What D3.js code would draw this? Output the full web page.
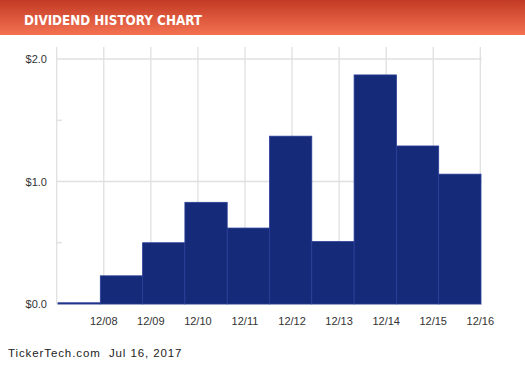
<!DOCTYPE html>
<html>
<head>
<meta charset="utf-8">
<script src="https://cdn.jsdelivr.net/npm/d3@7"></script>
<style>
  html, body { margin: 0; padding: 0; background: #fff; }
  svg { display: block; }
</style>
</head>
<body>
<svg id="chart" width="525" height="366"></svg>
<script>
// ---- data ----
const title = "DIVIDEND HISTORY CHART";
const footer = "TickerTech.com  Jul 16, 2017";
const periods = ["2007", "2008", "2009", "2010", "2011", "2012", "2013", "2014", "2015", "2016"];
const dividends = [0.01, 0.23, 0.50, 0.83, 0.62, 1.37, 0.51, 1.87, 1.29, 1.06];
const gridDates = ["12/07", "12/08", "12/09", "12/10", "12/11", "12/12", "12/13", "12/14", "12/15", "12/16"];
const tickLabels = ["12/08", "12/09", "12/10", "12/11", "12/12", "12/13", "12/14", "12/15", "12/16"];
const yTicks = [0, 1, 2];
const yMinorTicks = [0.5, 1.5];

// ---- drawing ----
const svg = d3.select("#chart");
const defs = svg.append("defs");
const grad = defs.append("linearGradient").attr("id", "hdr").attr("x1", 0).attr("y1", 0).attr("x2", 0).attr("y2", 1);
grad.append("stop").attr("offset", "0%").attr("stop-color", "#c23a24");
grad.append("stop").attr("offset", "100%").attr("stop-color", "#f47252");

svg.append("rect").attr("x", 0).attr("y", 0).attr("width", 525).attr("height", 35).attr("fill", "url(#hdr)");
svg.append("text")
  .attr("x", 24).attr("y", 24.5)
  .attr("font-family", "DejaVu Sans, Verdana, sans-serif")
  .attr("font-weight", "bold")
  .attr("font-size", 13.5)
  .attr("fill", "#ffffff")
  .attr("textLength", 178)
  .attr("lengthAdjust", "spacingAndGlyphs")
  .text(title);

const y = d3.scaleLinear().domain([0, 2]).range([304, 59]);
const xGrid = d3.scalePoint().domain(gridDates).range([56.7, 480.3]);
const xBar = d3.scaleBand().domain(periods).range([58, 481]).padding(0);

const grid = svg.append("g").attr("stroke", "#e0e0e0").attr("stroke-width", 1.3);
grid.selectAll("line.v").data(gridDates).join("line")
  .attr("class", "v")
  .attr("x1", d => xGrid(d)).attr("x2", d => xGrid(d))
  .attr("y1", 47).attr("y2", 304);
grid.selectAll("line.h").data(yTicks).join("line")
  .attr("class", "h")
  .attr("x1", 56.7).attr("x2", 482)
  .attr("y1", d => y(d)).attr("y2", d => y(d));
grid.selectAll("line.m").data(yMinorTicks).join("line")
  .attr("class", "m")
  .attr("x1", 56.7).attr("x2", 62)
  .attr("y1", d => y(d)).attr("y2", d => y(d));

svg.append("g").selectAll("rect").data(dividends).join("rect")
  .attr("x", (d, i) => xBar(periods[i]))
  .attr("width", xBar.bandwidth())
  .attr("y", d => y(d))
  .attr("height", d => y(0) - y(d))
  .attr("fill", "#152a78")
  .attr("stroke", "#2a3f98")
  .attr("stroke-width", 0.8);

svg.append("g").selectAll("text").data(yTicks).join("text")
  .attr("x", 47).attr("y", d => y(d) + 4)
  .attr("text-anchor", "end")
  .attr("font-family", "Liberation Sans, Arial, sans-serif")
  .attr("font-size", 11)
  .attr("fill", "#333")
  .text(d => "$" + d.toFixed(1));

svg.append("g").selectAll("text").data(tickLabels).join("text")
  .attr("x", d => xGrid(d)).attr("y", 325)
  .attr("text-anchor", "middle")
  .attr("font-family", "Liberation Sans, Arial, sans-serif")
  .attr("font-size", 11)
  .attr("fill", "#333")
  .text(d => d);

svg.append("text")
  .attr("x", 8).attr("y", 357)
  .attr("font-family", "Liberation Sans, Arial, sans-serif")
  .attr("font-size", 11.5)
  .attr("letter-spacing", 0.9)
  .attr("fill", "#222")
  .attr("xml:space", "preserve")
  .style("white-space", "pre")
  .text(footer);
</script>
</body>
</html>
